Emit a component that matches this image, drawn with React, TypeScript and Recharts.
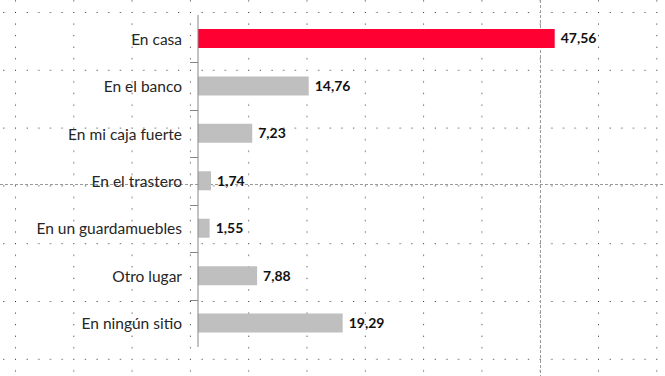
import React from "react"
import { BarChart, Bar, XAxis, YAxis, Cell, LabelList } from "recharts"

const categories = [
    "En casa",
    "En el banco",
    "En mi caja fuerte",
    "En el trastero",
    "En un guardamuebles",
    "Otro lugar",
    "En ningún sitio",
]
const values = [47.56, 14.76, 7.23, 1.74, 1.55, 7.88, 19.29]
const highlightIndex = 0
const xMax = 50

const data = categories.map((name, i) => ({ name, value: values[i] }))

const W = 665
const H = 376
const MARGIN = { top: 15, right: 92, bottom: 29, left: 0 }
const AXIS_W = 198
const BAND = (H - MARGIN.top - MARGIN.bottom) / categories.length

const FONT = "Lato, 'Open Sans', sans-serif"

// excel-like sheet background (dotted cell grid + page break lines)
const CELL_W = 58.3
const CELL_H = 57.8

function SheetBackground() {
    const steps = [0, 1, 2, 3, 4]
    return (
        <svg width={W} height={H} style={{ position: "absolute", left: 0, top: 0 }}>
            <defs>
                <pattern
                    id="cells"
                    patternUnits="userSpaceOnUse"
                    x={15}
                    y={12}
                    width={CELL_W}
                    height={CELL_H}
                >
                    {steps.map((k) => (
                        <rect key={"v" + k} x={0} y={(k * CELL_H) / 5} width={1} height={1} fill="#000" />
                    ))}
                    {steps.slice(1).map((k) => (
                        <rect key={"h" + k} x={(k * CELL_W) / 5} y={0} width={1} height={1} fill="#000" />
                    ))}
                </pattern>
            </defs>
            <rect x={0} y={0} width={W} height={H} fill="#fff" />
            <rect x={0} y={0} width={W} height={H} fill="url(#cells)" opacity={0.85} />
            <line x1={0} x2={W} y1={184.5} y2={184.5} stroke="#9a9a9a" strokeDasharray="3 2" />
            <line x1={540.5} x2={540.5} y1={0} y2={H} stroke="#9a9a9a" strokeDasharray="3 2" />
        </svg>
    )
}

function CategoryTick(props: any) {
    const { x, y, payload, index } = props
    return (
        <g>
            <text
                x={x}
                y={y}
                textAnchor="end"
                dominantBaseline="central"
                fontFamily={FONT}
                fontSize={15.5}
                fill="#262626"
            >
                {payload.value}
            </text>
            {index > 0 && (
                <line
                    x1={x + 8}
                    x2={x + 16}
                    y1={Math.round(y - BAND / 2) + 0.5}
                    y2={Math.round(y - BAND / 2) + 0.5}
                    stroke="#868686"
                />
            )}
        </g>
    )
}

export default function App() {
    return (
        <div style={{ position: "absolute", left: 0, top: 0, width: W, height: H }}>
            <SheetBackground />
            <div style={{ position: "absolute", left: 0, top: 0 }}>
                <BarChart width={W} height={H} data={data} layout="vertical" margin={MARGIN}>
                    <XAxis type="number" domain={[0, xMax]} hide />
                    <YAxis
                        type="category"
                        dataKey="name"
                        width={AXIS_W}
                        axisLine={{ stroke: "#868686" }}
                        tickLine={false}
                        tickSize={8}
                        tickMargin={8}
                        interval={0}
                        tick={<CategoryTick />}
                    />
                    <Bar dataKey="value" barSize={19} isAnimationActive={false}>
                        {data.map((_, i) => (
                            <Cell key={i} fill={i === highlightIndex ? "#FF0033" : "#BFBFBF"} />
                        ))}
                        <LabelList
                            dataKey="value"
                            position="right"
                            offset={6}
                            formatter={(v: any) => Number(v).toFixed(2).replace(".", ",")}
                            style={{ fontFamily: FONT, fontSize: 14, fontWeight: 700, fill: "#111" }}
                        />
                    </Bar>
                </BarChart>
            </div>
        </div>
    )
}
